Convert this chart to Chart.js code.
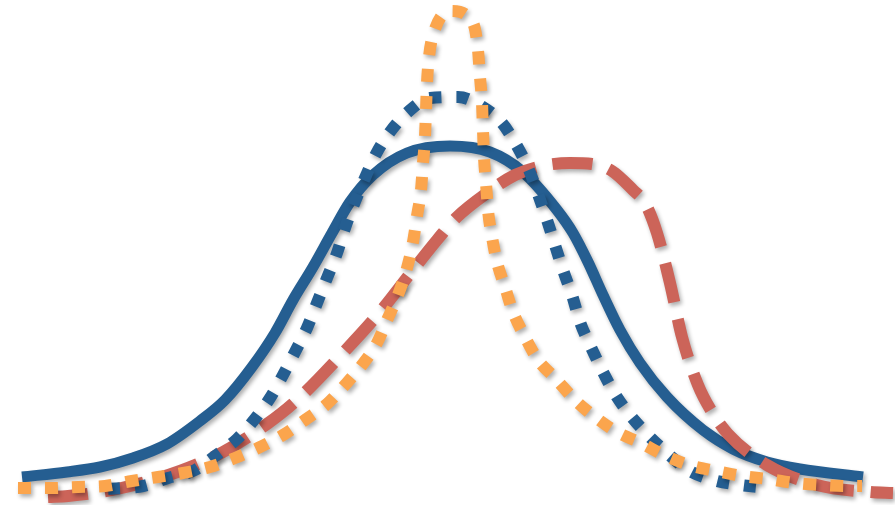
<!DOCTYPE html>
<html>
<head>
<meta charset="utf-8">
<script src="https://cdn.jsdelivr.net/npm/chart.js@4/dist/chart.umd.min.js"></script>
<style>
  html, body { margin: 0; padding: 0; background: #ffffff; }
  #wrap { width: 895px; height: 505px; }
</style>
</head>
<body>
<div id="wrap"><canvas id="c" width="895" height="505"></canvas></div>
<script>
// Series: solid blue curve
const solidX = [-4.33,-3.88,-3.55,-3.22,-2.88,-2.55,-2.30,-2.03,-1.80,-1.62,-1.42,-1.23,-1.05,-0.82,-0.48,-0.05,0.35,0.68,1.02,1.18,1.33,1.48,1.65,1.85,2.12,2.48,2.78,3.12,3.45,4.08];
const solidY = [0.13,0.18,0.23,0.32,0.46,0.69,0.90,1.23,1.57,1.90,2.23,2.57,2.88,3.15,3.37,3.44,3.38,3.18,2.80,2.57,2.28,1.95,1.60,1.27,0.93,0.60,0.41,0.28,0.21,0.13];

// Series: dotted blue curve
const dotBlueX = [-3.47,-3.12,-2.87,-2.60,-2.40,-2.18,-2.01,-1.85,-1.72,-1.60,-1.48,-1.38,-1.28,-1.18,-1.10,-1.01,-0.90,-0.79,-0.65,-0.47,-0.25,0.03,0.28,0.47,0.62,0.74,0.83,0.92,1.00,1.08,1.17,1.25,1.35,1.47,1.60,1.75,1.92,2.12,2.33,2.58,2.85,3.13];
const dotBlueY = [0.01,0.04,0.12,0.20,0.34,0.51,0.70,0.92,1.15,1.38,1.62,1.87,2.12,2.37,2.62,2.86,3.12,3.36,3.58,3.78,3.92,3.93,3.83,3.67,3.44,3.20,2.96,2.70,2.45,2.20,1.95,1.68,1.45,1.20,0.96,0.75,0.56,0.37,0.20,0.10,0.05,0.02];

// Series: dotted orange curve (narrow peak)
const dotOrangeX = [-4.37,-4.03,-3.77,-3.50,-3.23,-2.97,-2.72,-2.45,-2.20,-1.97,-1.72,-1.50,-1.28,-1.10,-0.93,-0.78,-0.67,-0.57,-0.48,-0.42,-0.38,-0.34,-0.32,-0.30,-0.29,-0.28,-0.26,-0.21,-0.04,0.18,0.23,0.25,0.27,0.28,0.29,0.31,0.33,0.37,0.42,0.50,0.58,0.70,0.83,1.00,1.20,1.40,1.62,1.86,2.09,2.34,2.61,2.87,3.13,3.40,3.67,3.93,4.07];
const dotOrangeY = [0.02,0.02,0.03,0.04,0.09,0.13,0.17,0.23,0.32,0.42,0.55,0.70,0.86,1.05,1.25,1.47,1.72,1.95,2.22,2.48,2.74,3.00,3.27,3.53,3.80,4.07,4.33,4.58,4.79,4.67,4.40,4.13,3.87,3.60,3.33,3.07,2.80,2.53,2.28,2.03,1.78,1.53,1.30,1.12,0.90,0.73,0.58,0.47,0.35,0.25,0.19,0.14,0.11,0.07,0.05,0.04,0.04];

// Series: dashed red curve (skewed)
const dashRedX = [-4.07,-3.87,-3.38,-2.75,-2.32,-1.88,-1.58,-1.12,-0.75,-0.42,-0.18,0.02,0.32,0.60,0.87,1.15,1.37,1.57,1.78,1.90,2.02,2.15,2.27,2.43,2.57,2.73,3.12,3.62,4.15,4.38];
const dashRedY = [-0.07,-0.06,0.01,0.19,0.38,0.66,0.90,1.37,1.78,2.20,2.50,2.73,2.97,3.15,3.24,3.27,3.26,3.19,3.00,2.87,2.57,2.07,1.53,1.05,0.78,0.56,0.25,0.05,-0.02,-0.03];

const toPts = (xs, ys) => xs.map((x, i) => ({ x: x, y: ys[i] }));

const shadowPlugin = {
  id: 'shadow',
  beforeDatasetsDraw(chart) {
    const ctx = chart.ctx;
    ctx.save();
    ctx.shadowColor = 'rgba(0,0,0,0.32)';
    ctx.shadowBlur = 4;
    ctx.shadowOffsetX = 2;
    ctx.shadowOffsetY = 3;
  },
  afterDatasetsDraw(chart) {
    chart.ctx.restore();
  }
};

const common = {
  fill: false,
  pointRadius: 0,
  pointHoverRadius: 0,
  cubicInterpolationMode: 'monotone',
  borderCapStyle: 'butt',
  borderJoinStyle: 'round',
  clip: false
};

new Chart(document.getElementById('c'), {
  type: 'line',
  data: {
    datasets: [
      Object.assign({}, common, {
        label: 'solid',
        data: toPts(solidX, solidY),
        borderColor: '#255e91',
        borderWidth: 11,
        order: 4
      }),
      Object.assign({}, common, {
        label: 'dashed',
        data: toPts(dashRedX, dashRedY),
        borderColor: '#cc6459',
        borderWidth: 12,
        borderDash: [40, 17],
        order: 3
      }),
      Object.assign({}, common, {
        label: 'dotted blue',
        data: toPts(dotBlueX, dotBlueY),
        borderColor: '#255e91',
        borderWidth: 12,
        borderDash: [12, 15],
        order: 2
      }),
      Object.assign({}, common, {
        label: 'dotted orange',
        data: toPts(dotOrangeX, dotOrangeY),
        borderColor: '#fba54d',
        borderWidth: 12,
        borderDash: [13, 14],
        order: 1
      })
    ]
  },
  options: {
    responsive: false,
    animation: false,
    events: [],
    layout: { padding: 0 },
    plugins: { legend: { display: false }, tooltip: { enabled: false } },
    scales: {
      x: { type: 'linear', display: false, min: -4.55, max: 4.40 },
      y: { type: 'linear', display: false, min: -0.15, max: 4.90 }
    }
  },
  plugins: [shadowPlugin]
});
</script>
</body>
</html>
